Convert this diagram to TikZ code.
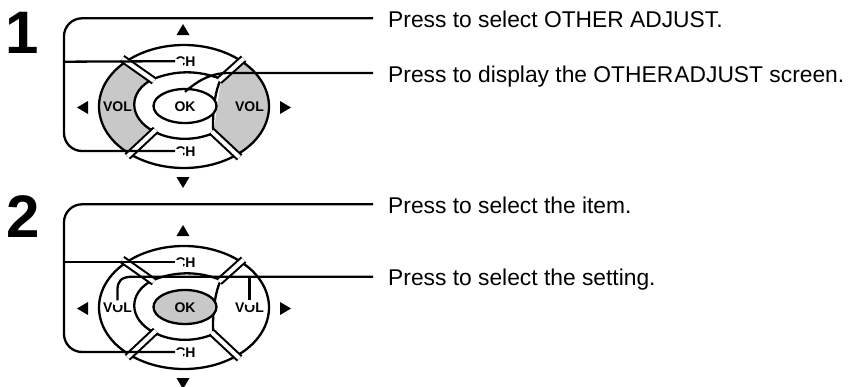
\documentclass[tikz,border=0pt]{standalone}
\usepackage{fontspec}
\setmainfont{Liberation Sans}
\usetikzlibrary{calc,shapes.geometric}
\definecolor{padgray}{RGB}{200,200,200}
\tikzset{
 padline/.style={line width=2.3pt},
 leader/.style={line width=2.3pt},
 gapline/.style={line width=2.1pt, double=white, double distance=4pt},
 desc/.style={anchor=west, inner sep=0pt, text height=18pt, text depth=0pt, font=\fontsize{22.8}{26}\selectfont},
 padlabel/.style={inner sep=0pt, text height=10pt, text depth=0pt, font=\fontsize{14}{15}\selectfont\bfseries},
 bignum/.style={anchor=base west, inner sep=0pt, font=\fontsize{60}{64}\selectfont\bfseries},
 okshape/.style={ellipse, draw, padline, minimum width=63pt, minimum height=34pt, inner sep=0pt, text height=10pt, text depth=0pt, font=\fontsize{14}{15}\selectfont\bfseries}
}
\newcommand{\mypad}[4]{%
\begin{scope}[shift={(0,#2)}]
\coordinate (#1o1) at (125,60.5); \coordinate (#1i1) at (152,79.5);
\coordinate (#1o2) at (241,61); \coordinate (#1i2) at (221,79);
\coordinate (#1o3) at (237,155); \coordinate (#1i3) at (213.5,133);
\coordinate (#1o4) at (130,154); \coordinate (#1i4) at (154,131.5);
\fill[white] (184,106.5) ellipse [x radius=85pt, y radius=61.5pt];
\begin{scope}
\clip (184,106.5) ellipse [x radius=85pt, y radius=61.5pt];
\fill[#3] ($(#1i1)!2.5!(#1o1)$) -- (#1i1) -- (#1i4) -- ($(#1i4)!2.5!(#1o4)$) -- (40,195) -- (40,25) -- cycle;
\fill[#3] ($(#1i2)!2.5!(#1o2)$) -- (#1i2) -- (#1i3) -- ($(#1i3)!2.5!(#1o3)$) -- (330,195) -- (330,25) -- cycle;
\end{scope}
\draw[padline] (184,106.5) ellipse [x radius=85pt, y radius=61.5pt];
\draw[padline, fill=white] (#1i1) .. controls (175,70) and (198,70) .. (#1i2) .. controls (214,92) and (212,120) .. (#1i3) .. controls (195,141) and (172,141) .. (#1i4) .. controls (128,118) and (128,92) .. cycle;
\foreach \k in {1,2,3,4} {\draw[gapline] ($(#1o\k)!-3.5pt!(#1i\k)$) -- ($(#1i\k)!-2.5pt!(#1o\k)$);}
\node[okshape, fill=#4] (#1ok) at (185,106) {OK};
\node[padlabel] (#1volL) at (117.5,106) {VOL};
\node[padlabel] (#1volR) at (249.5,106) {VOL};
\node[padlabel] (#1chT) at (185.5,61.2) {CH};
\node[padlabel] (#1chB) at (185.5,151) {CH};
\fill[white] ($(#1chT.west)+(-1,-2.5)$) rectangle ($(#1chT.west)+(7.5,6)$);
\fill[white] ($(#1chB.west)+(-1,-2.5)$) rectangle ($(#1chB.west)+(7.5,6)$);
\fill (183,24) -- (189.5,35) -- (176.5,35) -- cycle;
\fill (183,188) -- (189.5,177) -- (176.5,177) -- cycle;
\fill (77,107.5) -- (88,101) -- (88,114) -- cycle;
\fill (291,107.5) -- (280,101) -- (280,114) -- cycle;
\end{scope}}
\begin{document}
\begin{tikzpicture}[x=1pt,y=-1pt]
\useasboundingbox (0,0) rectangle (849,386);
\mypad{p1}{0}{padgray}{white}
\mypad{p2}{201}{white}{padgray}
\node[desc] (t1) at (388,18.3) {Press to select OTHER ADJUST.};
\node[desc] (t2) at (388,73) {Press to display the OTHER\hspace{1.2pt}ADJUST screen.};
\node[desc] (t3) at (388,204.3) {Press to select the item.};
\node[desc] (t4) at (388,276.7) {Press to select the setting.};
\node[bignum] (n1) at (5,53) {1};
\node[bignum] (n2) at (6,237) {2};
% panel 1 leaders
\coordinate (p1br) at (64,61.7);
\draw[leader, rounded corners=18pt] ([xshift=-15pt]t1.west) -- (64,18.3) -- (64,151) -- (p1chB.west);
\draw[leader] (p1br) -- (p1chT.west);
\draw[leader] ([xshift=-15pt]t2.west) -- (228,73) .. controls (210,73) and (196,82) .. ([yshift=-4pt]p1ok.north);
% panel 2 leaders
\coordinate (p2br) at (64,262.2);
\coordinate (p2vb) at (249.5,276.7);
\draw[leader, rounded corners=18pt] ([xshift=-15pt]t3.west) -- (64,204.3) -- (64,352) -- (p2chB.west);
\draw[leader] (p2br) -- (p2chT.west);
\fill[white] ($(p2volL.north)+(-4,-2)$) rectangle ($(p2volL.north)+(4,3.5)$);
\fill[white] ($(p2volR.north)+(-4,-2)$) rectangle ($(p2volR.north)+(4,3.5)$);
\draw[leader] ([xshift=-15pt]t4.west) -- (133,276.7) .. controls (121,276.7) and (117.5,281) .. (117.5,290) -- ([yshift=1.5pt]p2volL.north);
\draw[leader] (p2vb) -- ([yshift=1.5pt]p2volR.north);
\end{tikzpicture}
\end{document}
